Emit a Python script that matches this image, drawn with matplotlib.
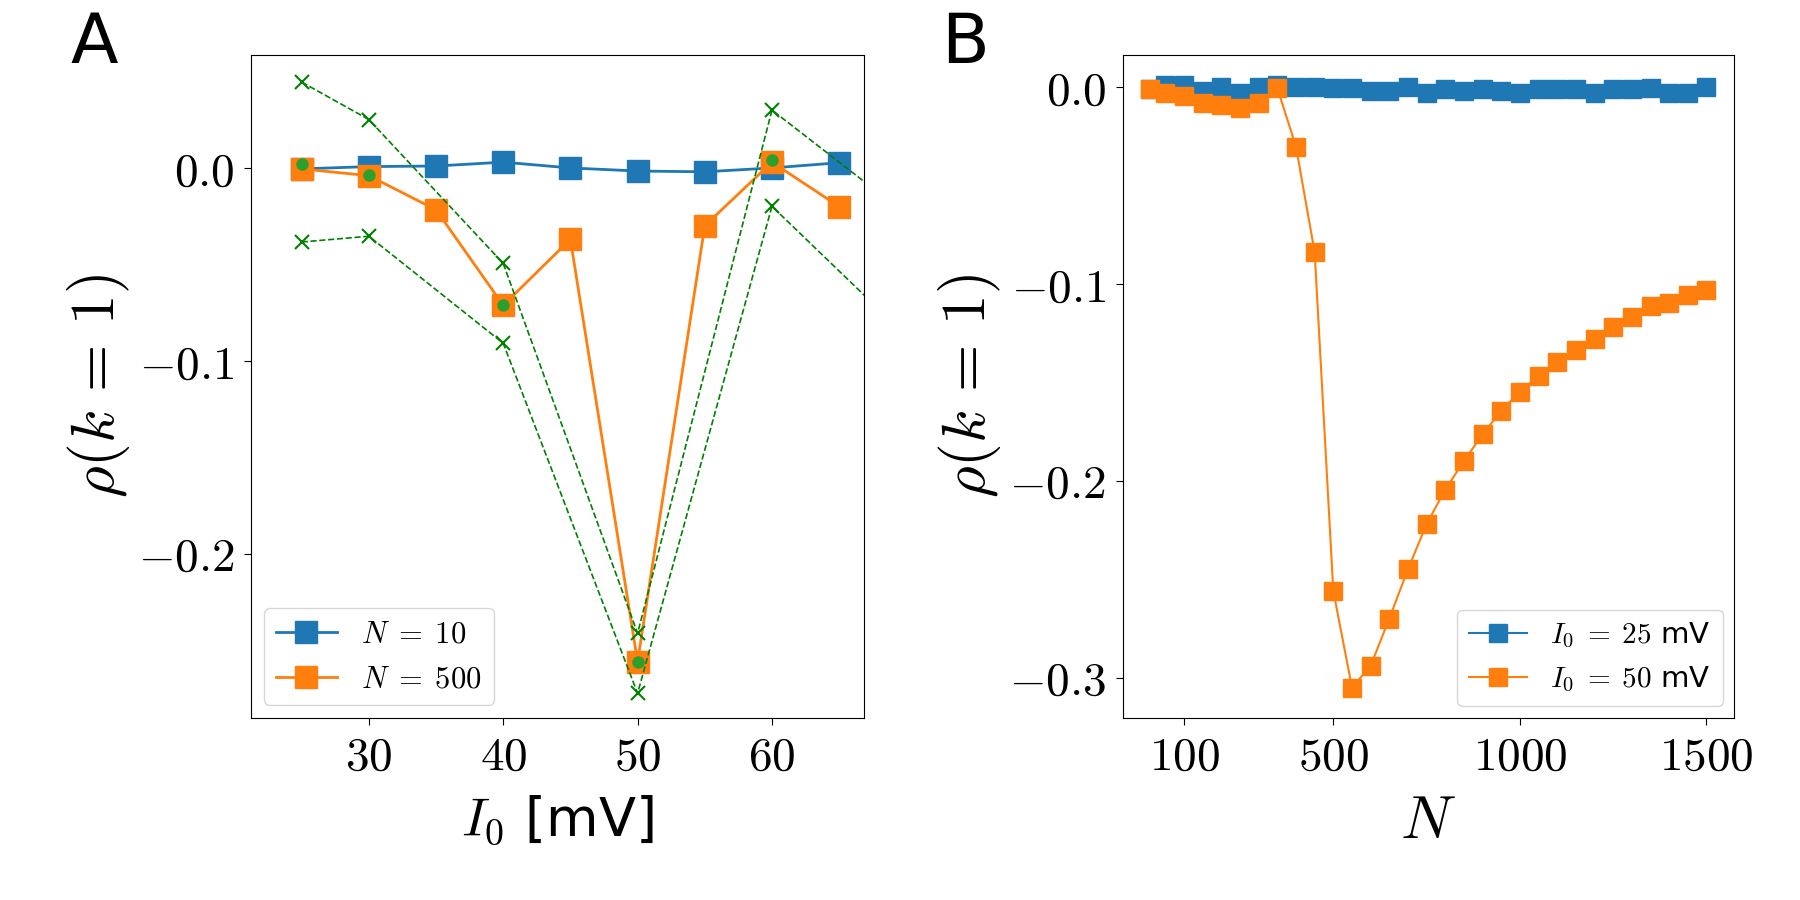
import numpy as np
import matplotlib
matplotlib.use("Agg")
import matplotlib.pyplot as plt
from matplotlib.ticker import FuncFormatter

plt.rcParams['mathtext.fontset'] = 'cm'
plt.rcParams['font.family'] = ['DejaVu Sans']

# panel A: rho(k=1) vs I0
i0 = [25, 30, 35, 40, 45, 50, 55, 60, 65]
rho_n10 = [-0.0005, 0.0007, 0.001, 0.003, 0.0, -0.0016, -0.002, 0.0, 0.0027]
rho_n500 = [-0.0005, -0.004, -0.0217, -0.0712, -0.037, -0.256, -0.030, 0.003, -0.020]

# green reference: mean with upper / lower bounds
i0_ref = [25, 30, 40, 50, 60, 70]
ref_mean = [0.002, -0.0039, -0.0712, -0.256, 0.0039, -0.056]
ref_upper = [0.0445, 0.0251, -0.0495, -0.2413, 0.030, -0.024]
ref_lower = [-0.0384, -0.0354, -0.0909, -0.2724, -0.0199, -0.087]

# panel B: rho(k=1) vs N
n_vals = [10, 50] + list(range(100, 1501, 50))
rho_i25 = [-0.001, 0.001, 0.0007, -0.002, 0.0, -0.003, 0.0, 0.001, 0.0, 0.0,
           -0.0007, -0.0007, -0.002, -0.002, 0.0, -0.003, -0.001, -0.002, -0.001,
           -0.002, -0.003, -0.001, -0.001, -0.001, -0.003, -0.001, -0.001,
           -0.0007, -0.003, -0.0033, 0.0]
rho_i50 = [-0.0013, -0.003, -0.0045, -0.008, -0.009, -0.011, -0.008, -0.0007,
           -0.0304, -0.084, -0.256, -0.305, -0.294, -0.270, -0.245, -0.222,
           -0.2045, -0.190, -0.1764, -0.1645, -0.1547, -0.1466, -0.1399, -0.1334,
           -0.1278, -0.1218, -0.117, -0.1115, -0.1097, -0.1059, -0.1032]

blue = '#1f77b4'
orange = '#ff7f0e'

fig = plt.figure(figsize=(18, 9), dpi=100)
ax1 = fig.add_axes([0.1396, 0.2026, 0.3404, 0.7366])
ax2 = fig.add_axes([0.6237, 0.2026, 0.3398, 0.7366])

ax1.plot(i0, rho_n10, '-s', color=blue, ms=16, lw=2, label=r'$N\;=\;10$')
ax1.plot(i0, rho_n500, '-s', color=orange, ms=16, lw=2, label=r'$N\;=\;500$')
ax1.plot(i0_ref, ref_upper, 'x--', color='green', ms=10, lw=1.2, mew=1.5)
ax1.plot(i0_ref, ref_lower, 'x--', color='green', ms=10, lw=1.2, mew=1.5)
ax1.plot(i0_ref, ref_mean, 'o', color='#2ca02c', ms=8)
ax1.set_xlim(21.25, 66.85)
ax1.set_ylim(-0.285, 0.0587)
ax1.set_xticks([30, 40, 50, 60])
ax1.set_yticks([-0.2, -0.1, 0.0])
ax1.set_xlabel(r'$I_0$ [mV]', fontsize=39, labelpad=10)
ax1.set_ylabel(r'$\rho(k\,=\,1)$', fontsize=44, labelpad=4)
ax1.legend(loc='lower left', fontsize=22, borderaxespad=0.4)

ax2.plot(n_vals, rho_i25, '-s', color=blue, ms=12.5, lw=1.5, label=r'$I_0\;=\;25$ mV')
ax2.plot(n_vals, rho_i50, '-s', color=orange, ms=12.5, lw=1.5, label=r'$I_0\;=\;50$ mV')
ax2.set_xticks([100, 500, 1000, 1500])
ax2.set_yticks([-0.3, -0.2, -0.1, 0.0])
ax2.set_xlabel(r'$N$', fontsize=44, labelpad=9)
ax2.set_ylabel(r'$\rho(k\,=\,1)$', fontsize=44, labelpad=4)
ax2.legend(loc='lower right', fontsize=21, borderaxespad=0.4)

for ax in (ax1, ax2):
    ax.xaxis.set_major_formatter(FuncFormatter(lambda v, p: f'${v:g}$'))
    ax.yaxis.set_major_formatter(FuncFormatter(lambda v, p: f'${v:.1f}$'))
    ax.tick_params(labelsize=34, pad=7, length=5)

fig.text(0.039, 0.93, 'A', fontsize=50)
fig.text(0.523, 0.93, 'B', fontsize=50)

fig.savefig('out.png', dpi=100)
